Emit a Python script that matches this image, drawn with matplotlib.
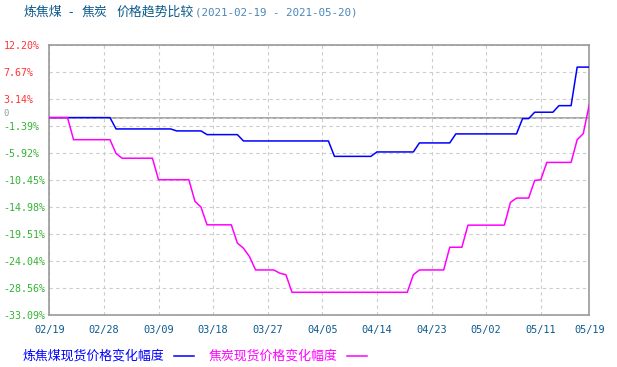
import matplotlib
matplotlib.use('Agg')
from matplotlib import pyplot as plt
from matplotlib.lines import Line2D
import numpy as np
import pandas as pd

# ----- データ ----- #
start_date = '2021-02-19'
end_date = '2021-05-19'

# 炼焦煤 (blue)
coking_coal = [0, 0, 0, 0, 0, 0, 0, 0, 0, 0, 0,
               -1.9, -1.9, -1.9, -1.9, -1.9, -1.9, -1.9, -1.9, -1.9, -1.9,
               -2.23, -2.23, -2.23, -2.23, -2.23,
               -2.85, -2.85, -2.85, -2.85, -2.85, -2.85,
               -3.91, -3.91, -3.91, -3.91, -3.91, -3.91, -3.91, -3.91,
               -3.91, -3.91, -3.91, -3.91, -3.91, -3.91, -3.91,
               -6.49, -6.49, -6.49, -6.49, -6.49, -6.49, -6.49,
               -5.75, -5.75, -5.75, -5.75, -5.75, -5.75, -5.75,
               -4.24, -4.24, -4.24, -4.24, -4.24, -4.24,
               -2.73, -2.73, -2.73, -2.73, -2.73, -2.73, -2.73, -2.73, -2.73, -2.73, -2.73,
               -0.17, -0.17,
               0.9, 0.9, 0.9, 0.9,
               2.0, 2.0, 2.0,
               8.45, 8.45, 8.45]

# 焦炭 (magenta)
coke = [0, 0, 0, 0,
        -3.7, -3.7, -3.7, -3.7, -3.7, -3.7, -3.7,
        -6.0,
        -6.8, -6.8, -6.8, -6.8, -6.8, -6.8,
        -10.4, -10.4, -10.4, -10.4, -10.4, -10.4,
        -14.0, -14.98,
        -17.95, -17.95, -17.95, -17.95, -17.95,
        -21.0, -21.86, -23.27,
        -25.5, -25.5, -25.5, -25.5,
        -26.05, -26.3,
        -29.24, -29.24, -29.24, -29.24, -29.24, -29.24, -29.24, -29.24, -29.24, -29.24,
        -29.24, -29.24, -29.24, -29.24, -29.24, -29.24, -29.24, -29.24, -29.24, -29.24,
        -26.3,
        -25.5, -25.5, -25.5, -25.5, -25.5,
        -21.7, -21.7, -21.7,
        -18.0, -18.0, -18.0, -18.0, -18.0, -18.0, -18.0,
        -14.2,
        -13.47, -13.47, -13.47,
        -10.52, -10.4,
        -7.5, -7.5, -7.5, -7.5, -7.5,
        -3.7, -2.7, 2.2]

xtick_dates = ['2021-02-19', '2021-02-28', '2021-03-09', '2021-03-18', '2021-03-27',
               '2021-04-05', '2021-04-14', '2021-04-23', '2021-05-02', '2021-05-11',
               '2021-05-19']
xtick_labels = ['02/19', '02/28', '03/09', '03/18', '03/27', '04/05',
                '04/14', '04/23', '05/02', '05/11', '05/19']
ytick_values = [12.20, 7.67, 3.14, 0, -1.39, -5.92, -10.45, -14.98,
                -19.51, -24.04, -28.56, -33.09]

legend_labels = ['炼焦煤现货价格变化幅度', '焦炭现货价格变化幅度']
# title pieces: (text, x px)
title_parts = [('炼焦煤', 23.3), ('-', 68.5), ('焦炭', 81.7), ('价格趋势比较', 116.7)]
title_range = '(2021-02-19 - 2021-05-20)'

CJK = ['Noto Sans CJK SC', 'DejaVu Sans']
MONO = 'DejaVu Sans Mono'
W, H = 617, 367

dates = pd.date_range(start_date, end_date, freq='D')

fig = plt.figure(figsize=(W / 100, H / 100), dpi=100)
ax = fig.add_axes([49.3 / W, 1 - 315.3 / H, 540 / W, 270.6 / H])

# ----- グリッド ----- #
ax.grid(True, color='#cccccc', linestyle=(0, (3, 3)), linewidth=0.8, zorder=0)
ax.axhline(0, color='#999999', linewidth=1.2, zorder=1)

ax.plot(dates, coking_coal, color='#0000ff', linewidth=1.1, zorder=3)
ax.plot(dates, coke, color='#ff00ff', linewidth=1.1, zorder=4)

ax.set_xlim(dates[0], dates[-1])
ax.set_ylim(-33.09, 12.20)

for s in ax.spines.values():
    s.set_color('#999999')
    s.set_linewidth(1.2)

ax.set_xticks(pd.to_datetime(xtick_dates))
ax.set_xticklabels(xtick_labels, fontfamily=MONO, fontsize=7.4, color='#0d5b8e')
ax.tick_params(axis='x', length=0, pad=7)

ax.set_yticks(ytick_values)
ylabels = ['0' if v == 0 else '%.2f%%' % v for v in ytick_values]
ax.set_yticklabels(ylabels, fontfamily=MONO, fontsize=7.2)
ax.tick_params(axis='y', length=0, pad=33)
for lbl, v in zip(ax.get_yticklabels(), ytick_values):
    lbl.set_ha('left')
    if v > 0:
        lbl.set_color('#ff3333')
    elif v < 0:
        lbl.set_color('#33b233')
    else:
        lbl.set_color('#999999')
        lbl.set_fontsize(6.3)
        lbl.set_va('bottom')

# ----- タイトル ----- #
for txt, px in title_parts:
    fig.text(px / W, 1 - 12.5 / H, txt, family=CJK, fontsize=9.3,
             color='#0b5a8c', va='center', ha='left')
fig.text(195 / W, 1 - 12.5 / H, title_range, family=MONO, fontsize=7.8,
         color='#4a87b8', va='center', ha='left')

# ----- 凡例 ----- #
ly = 1 - 355.7 / H
fig.text(23 / W, ly, legend_labels[0], family=CJK, fontsize=9.3,
         color='#0000ff', va='center', ha='left')
fig.add_artist(Line2D([174 / W, 194.3 / W], [ly, ly], color='#0000ff', linewidth=1.1))
fig.text(209 / W, ly, legend_labels[1], family=CJK, fontsize=9.3,
         color='#ff00ff', va='center', ha='left')
fig.add_artist(Line2D([346.7 / W, 366.7 / W], [ly, ly], color='#ff00ff', linewidth=1.1))

fig.savefig('out.png', dpi=100)
